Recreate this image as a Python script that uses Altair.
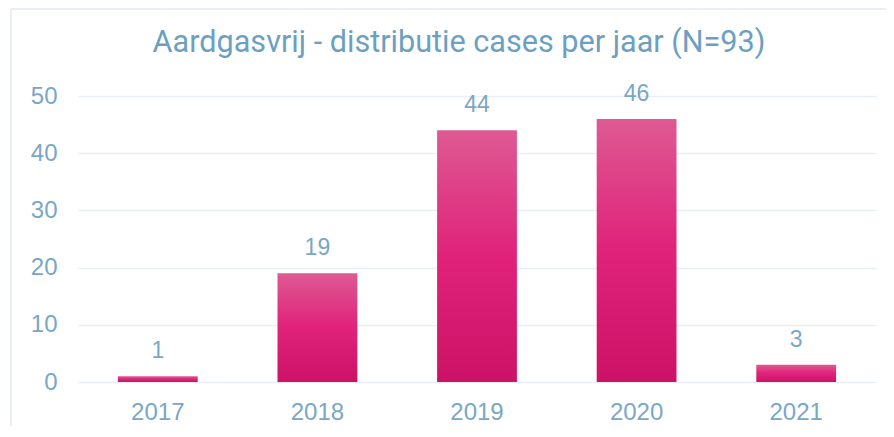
import altair as alt
import pandas as pd

years = ["2017", "2018", "2019", "2020", "2021"]
cases = [1, 19, 44, 46, 3]
y_ticks = [0, 10, 20, 30, 40, 50]

df = pd.DataFrame({"jaar": years, "cases": cases})

TEXT = "#79a7c6"
GRID = "#e8eef4"
FRAME = "#e9eff5"

grad = alt.Gradient(
    gradient="linear",
    x1=0, y1=0, x2=0, y2=1,
    stops=[
        alt.GradientStop(color="#de5a92", offset=0),
        alt.GradientStop(color="#e0227b", offset=0.5),
        alt.GradientStop(color="#cc1267", offset=1),
    ],
)

base = alt.Chart(df)

bars = base.mark_bar(color=grad).encode(
    x=alt.X("jaar:N", sort=years, title=None,
            scale=alt.Scale(paddingInner=0.5, paddingOuter=0.25),
            axis=alt.Axis(labelAngle=0, domain=False, ticks=False, labelPadding=18,
                          labelFontSize=24, labelColor=TEXT, labelFont="Liberation Sans")),
    y=alt.Y("cases:Q", title=None,
            scale=alt.Scale(domain=[0, 50], nice=False),
            axis=alt.Axis(values=y_ticks, domain=False, ticks=False, labelPadding=21,
                          labelFontSize=24, labelColor=TEXT, labelFont="Liberation Sans",
                          gridColor=GRID, gridWidth=1.5)),
)

labels = base.mark_text(baseline="alphabetic", dy=-18, fontSize=23, color=TEXT,
                        font="Liberation Sans").encode(
    x=alt.X("jaar:N", sort=years),
    y=alt.Y("cases:Q"),
    text=alt.Text("cases:Q"),
)

frame_left = base.mark_rule(color=FRAME, strokeWidth=1.5).encode(
    x=alt.value(-67), y=alt.value(-87), y2=alt.value(330)
)
frame_top = base.mark_rule(color=FRAME, strokeWidth=1.5).encode(
    x=alt.value(-67), x2=alt.value(830), y=alt.value(-87)
)

chart = alt.layer(frame_left, frame_top, bars, labels).properties(
    width=798,
    height=286,
    autosize=alt.AutoSizeParams(type="none"),
    padding={"left": 70, "top": 88, "right": 10, "bottom": 50},
    title=alt.TitleParams(
        "Aardgasvrij - distributie cases per jaar (N=93)",
        font="Roboto",
        fontSize=30.6,
        fontWeight="normal",
        color="#6d9fc2",
        frame="group",
        baseline="alphabetic",
        offset=0,
        dy=74,
        dx=-18,
    ),
).configure_view(stroke=None)

chart.save("out.html", embed_options={"renderer": "svg", "actions": False})
